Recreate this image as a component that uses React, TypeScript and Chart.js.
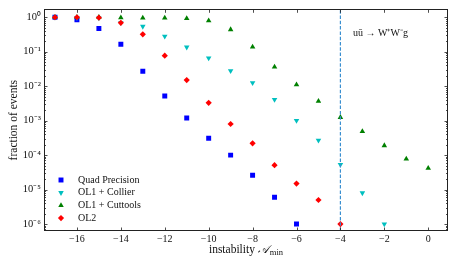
import React, { useEffect, useRef } from "react";
import { Chart, registerables } from "chart.js";

Chart.register(...registerables);

const QUAD_X = [-17, -16, -15, -14, -13, -12, -11, -10, -9, -8, -7, -6];
const QUAD_Y = [1, 0.85, 0.47, 0.165, 0.027, 0.0052, 0.0012, 3.1e-4, 1.0e-4, 2.6e-5, 6.0e-6, 1.0e-6];

const COLLIER_X = [-17, -16, -15, -14, -13, -12, -11, -10, -9, -8, -7, -6, -5, -4, -3, -2];
const COLLIER_Y = [1, 0.97, 0.95, 0.69, 0.54, 0.28, 0.135, 0.065, 0.028, 0.0125, 0.0041, 0.001, 2.7e-4, 5.3e-5, 8.0e-6, 1.0e-6];

const CUTTOOLS_X = [-17, -16, -15, -14, -13, -12, -11, -10, -9, -8, -7, -6, -5, -4, -3, -2, -1, 0];
const CUTTOOLS_Y = [1, 1, 1, 0.97, 0.95, 0.95, 0.92, 0.8, 0.44, 0.137, 0.036, 0.011, 0.0037, 0.00125, 4.9e-4, 1.9e-4, 7.8e-5, 4.2e-5];

const OL2_X = [-17, -16, -15, -14, -13, -12, -11, -10, -9, -8, -7, -6, -5, -4];
const OL2_Y = [1, 1, 0.97, 0.69, 0.32, 0.077, 0.015, 0.0033, 8.0e-4, 2.2e-4, 5.1e-5, 1.5e-5, 5.0e-6, 1.0e-6];

const SERIES_NAMES = ["Quad Precision", "OL1 + Collier", "OL1 + Cuttools", "OL2"];
const SERIES_COLORS = ["#0000ff", "#00bfbf", "#008000", "#ff0000"];

const X_TICKS = [-16, -14, -12, -10, -8, -6, -4, -2, 0];
const Y_TICKS = [1e-6, 1e-5, 1e-4, 1e-3, 1e-2, 1e-1, 1];
const Y_TICK_LABELS = ["10⁻⁶", "10⁻⁵", "10⁻⁴", "10⁻³", "10⁻²", "10⁻¹", "10⁰"];

const CUT_X = -4;
const X_MIN = -17.5;
const X_MAX = 0.9;
const Y_MIN = 6.3e-7;
const Y_MAX = 1.7;

const ANNOTATION = "uū → W⁺W⁻g";
const Y_TITLE = "fraction of events";
const X_TITLE_MAIN = "instability ";
const X_TITLE_SYMBOL = "𝒜";
const X_TITLE_SUB = "min";

const FONT = "'Liberation Serif', 'Times New Roman', serif";

function pts(xs: number[], ys: number[]) {
  return xs.map((x, i) => ({ x, y: ys[i] }));
}

function drawMarker(ctx: CanvasRenderingContext2D, style: string, r: number, rot: number, x: number, y: number) {
  ctx.beginPath();
  if (style === "rect") {
    const s = Math.SQRT1_2 * r;
    ctx.rect(x - s, y - s, 2 * s, 2 * s);
  } else if (style === "rectRot") {
    ctx.moveTo(x, y - r);
    ctx.lineTo(x + r, y);
    ctx.lineTo(x, y + r);
    ctx.lineTo(x - r, y);
    ctx.closePath();
  } else {
    const sgn = rot === 180 ? -1 : 1;
    ctx.moveTo(x, y - sgn * r);
    ctx.lineTo(x + r * 0.866, y + sgn * r * 0.5);
    ctx.lineTo(x - r * 0.866, y + sgn * r * 0.5);
    ctx.closePath();
  }
  ctx.fill();
}

const framePlugin = {
  id: "frameTicks",
  afterDatasetsDraw(chart: any) {
    const { ctx, chartArea: a, scales } = chart;
    const xs = scales.x;
    const ys = scales.y;
    ctx.save();
    ctx.strokeStyle = "#222";
    ctx.lineWidth = 1;
    ctx.strokeRect(Math.round(a.left) + 0.5, Math.round(a.top) + 0.5, Math.round(a.right - a.left) - 1, Math.round(a.bottom - a.top) - 1);
    ctx.lineWidth = 0.8;
    ctx.beginPath();
    const major = 3.5;
    const minor = 2;
    X_TICKS.forEach((v) => {
      const px = Math.round(xs.getPixelForValue(v)) + 0.5;
      ctx.moveTo(px, a.bottom);
      ctx.lineTo(px, a.bottom - major);
      ctx.moveTo(px, a.top);
      ctx.lineTo(px, a.top + major);
    });
    for (let e = -7; e <= 0; e++) {
      for (let m = 1; m <= 9; m++) {
        const v = m * Math.pow(10, e);
        if (v < Y_MIN || v > Y_MAX) continue;
        const py = Math.round(ys.getPixelForValue(v)) + 0.5;
        const len = m === 1 ? major : minor;
        ctx.moveTo(a.left, py);
        ctx.lineTo(a.left + len, py);
        ctx.moveTo(a.right, py);
        ctx.lineTo(a.right - len, py);
      }
    }
    ctx.stroke();
    ctx.restore();
  },
  afterDraw(chart: any) {
    const { ctx, chartArea: a } = chart;
    ctx.save();
    ctx.fillStyle = "#111";
    ctx.font = `10px ${FONT}`;
    ctx.textBaseline = "middle";
    ctx.textAlign = "left";
    ctx.fillText(ANNOTATION, 353, 33);

    ctx.save();
    ctx.translate(14, (a.top + a.bottom) / 2);
    ctx.rotate(-Math.PI / 2);
    ctx.textAlign = "center";
    ctx.font = `11.5px ${FONT}`;
    ctx.fillText(Y_TITLE, 0, 0);
    ctx.restore();

    ctx.font = `11.5px ${FONT}`;
    const w1 = ctx.measureText(X_TITLE_MAIN).width;
    ctx.font = `italic 11.5px ${FONT}`;
    const w2 = ctx.measureText(X_TITLE_SYMBOL).width;
    ctx.font = `8.5px ${FONT}`;
    const w3 = ctx.measureText(X_TITLE_SUB).width;
    const total = w1 + w2 + w3 + 1;
    let x0 = (a.left + a.right) / 2 - total / 2;
    const ty = 250;
    ctx.textAlign = "left";
    ctx.font = `11.5px ${FONT}`;
    ctx.fillText(X_TITLE_MAIN, x0, ty);
    x0 += w1;
    ctx.font = `italic 11.5px ${FONT}`;
    ctx.fillText(X_TITLE_SYMBOL, x0, ty);
    x0 += w2 + 1;
    ctx.font = `8.5px ${FONT}`;
    ctx.fillText(X_TITLE_SUB, x0, ty + 3);

    ctx.font = `10px ${FONT}`;
    const ds = chart.data.datasets;
    for (let i = 0; i < SERIES_NAMES.length; i++) {
      const y = 180 + i * 12.7;
      const d = ds[i];
      ctx.fillStyle = d.pointBackgroundColor;
      drawMarker(ctx, d.pointStyle, d.pointRadius, d.rotation || 0, 61, y);
      ctx.fillStyle = "#111";
      ctx.fillText(SERIES_NAMES[i], 78, y);
    }
    ctx.restore();
  },
};

export default function App() {
  const ref = useRef<HTMLCanvasElement | null>(null);
  useEffect(() => {
    if (!ref.current) return;
    const styles = ["rect", "triangle", "triangle", "rectRot"];
    const rots = [0, 180, 0, 0];
    const radii = [3.5, 3.2, 3.2, 3.1];
    const seriesData = [pts(QUAD_X, QUAD_Y), pts(COLLIER_X, COLLIER_Y), pts(CUTTOOLS_X, CUTTOOLS_Y), pts(OL2_X, OL2_Y)];
    const datasets: any[] = seriesData.map((data, i) => ({
      label: SERIES_NAMES[i],
      data,
      showLine: false,
      pointStyle: styles[i],
      rotation: rots[i],
      pointRadius: radii[i],
      pointBorderWidth: 0,
      pointBackgroundColor: SERIES_COLORS[i],
      pointBorderColor: SERIES_COLORS[i],
      order: 4 - i,
    }));
    datasets.push({
      label: "cut",
      data: [
        { x: CUT_X, y: Y_MIN },
        { x: CUT_X, y: Y_MAX },
      ],
      showLine: true,
      borderColor: "#3a8fd0",
      borderWidth: 1.2,
      borderDash: [3.5, 1.8],
      pointRadius: 0,
      order: 0,
    });
    const chart = new Chart(ref.current, {
      type: "scatter",
      data: { datasets },
      options: {
        animation: false,
        responsive: true,
        maintainAspectRatio: false,
        layout: { padding: { top: 7, right: 9, left: 0, bottom: 0 } },
        plugins: { legend: { display: false }, tooltip: { enabled: false } },
        scales: {
          x: {
            type: "linear",
            min: X_MIN,
            max: X_MAX,
            grid: { display: false, drawTicks: false },
            border: { display: false },
            afterBuildTicks: (s: any) => {
              s.ticks = X_TICKS.map((v) => ({ value: v }));
            },
            afterFit: (s: any) => {
              s.height = 34;
            },
            ticks: {
              padding: 2,
              color: "#111",
              font: { family: FONT, size: 10 },
              maxRotation: 0,
              autoSkip: false,
              callback: (v: any) => (Number(v) < 0 ? "−" + Math.abs(Number(v)) : String(v)),
            },
          },
          y: {
            type: "logarithmic",
            min: Y_MIN,
            max: Y_MAX,
            grid: { display: false, drawTicks: false },
            border: { display: false },
            afterBuildTicks: (s: any) => {
              s.ticks = Y_TICKS.map((v) => ({ value: v }));
            },
            afterFit: (s: any) => {
              s.width = 44;
            },
            ticks: {
              padding: 3,
              color: "#111",
              font: { family: FONT, size: 10.5 },
              autoSkip: false,
              callback: (v: any) => {
                const idx = Y_TICKS.findIndex((t) => Math.abs(Math.log10(t) - Math.log10(Number(v))) < 1e-6);
                return idx >= 0 ? Y_TICK_LABELS[idx] : "";
              },
            },
          },
        },
      },
      plugins: [framePlugin],
    });
    return () => chart.destroy();
  }, []);
  return (
    <div style={{ position: "fixed", left: 0, top: 0, width: 457, height: 265, background: "#fff" }}>
      <canvas ref={ref} style={{ width: 457, height: 265 }} />
    </div>
  );
}
